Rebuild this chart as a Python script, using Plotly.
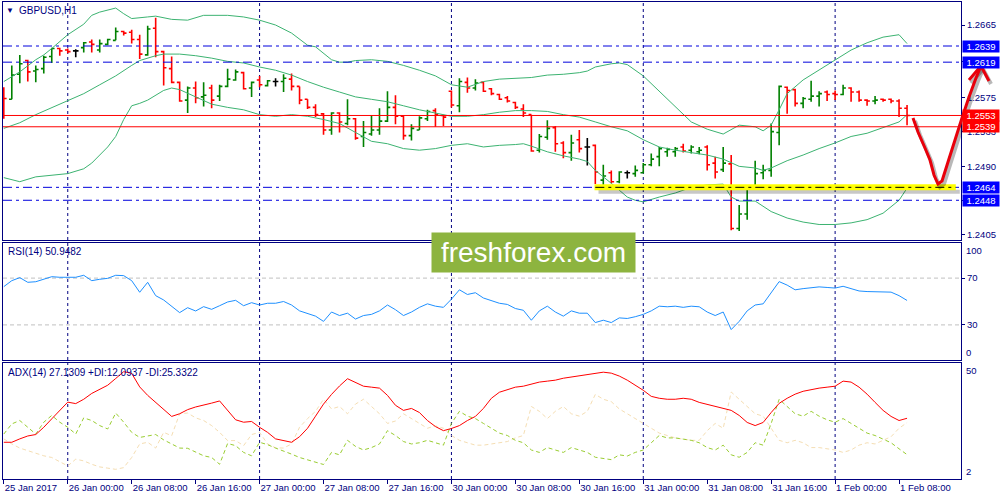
import plotly.graph_objects as go

# ---------------- data ----------------
bar_idx = list(range(114))
opens = [1.2587,1.2573,1.2604,1.2621,1.2608,1.2611,1.2626,1.2636,1.2634,1.2633,
         1.2637,1.2644,1.2634,1.2641,1.2646,1.2657,1.2656,1.2647,1.2628,1.2661,
         1.2632,1.2611,1.2594,1.2572,1.2587,1.2576,1.2587,1.2577,1.2589,1.2597,
         1.2606,1.2587,1.2597,1.2590,1.2595,1.2595,1.2598,1.2589,1.2573,1.2563,
         1.2555,1.2535,1.2556,1.2543,1.2549,1.2527,1.2530,1.2535,1.2546,1.2563,
         1.2552,1.2528,1.2535,1.2549,1.2559,1.2553,1.2583,1.2565,1.2594,1.2587,
         1.2594,1.2586,1.2579,1.2575,1.2569,1.2561,1.2554,1.2510,1.2526,1.2538,
         1.2519,1.2507,1.2523,1.2514,1.2516,1.2473,1.2482,1.2471,1.2482,1.2481,
         1.2482,1.2492,1.2502,1.2508,1.2508,1.2514,1.2510,1.2508,1.2514,1.2494,
         1.2486,1.2493,1.2413,1.2431,1.2462,1.2482,1.2485,1.2532,1.2588,1.2585,
         1.2568,1.2573,1.2577,1.2582,1.2580,1.2579,1.2587,1.2582,1.2572,1.2571,
         1.2573,1.2573,1.2571,1.2562]
highs = [1.2588,1.2615,1.2628,1.2622,1.2615,1.2627,1.2637,1.2637,1.2636,1.2635,
         1.2644,1.2647,1.2647,1.2648,1.2662,1.2658,1.2659,1.2653,1.2664,1.2674,
         1.2633,1.2626,1.2595,1.2589,1.2595,1.2594,1.2591,1.2591,1.2611,1.2610,
         1.2607,1.2595,1.2602,1.2597,1.2599,1.2604,1.2605,1.2589,1.2573,1.2567,
         1.2556,1.2557,1.2557,1.2573,1.2550,1.2546,1.2553,1.2562,1.2583,1.2578,
         1.2553,1.2542,1.2552,1.2560,1.2562,1.2554,1.2584,1.2599,1.2600,1.2598,
         1.2595,1.2587,1.2580,1.2577,1.2570,1.2567,1.2554,1.2530,1.2547,1.2540,
         1.2521,1.2529,1.2535,1.2525,1.2517,1.2492,1.2485,1.2484,1.2485,1.2491,
         1.2494,1.2506,1.2514,1.2513,1.2514,1.2518,1.2516,1.2514,1.2516,1.2502,
         1.2514,1.2504,1.2442,1.2464,1.2497,1.2492,1.2543,1.2590,1.2589,1.2586,
         1.2576,1.2596,1.2583,1.2584,1.2584,1.2591,1.2588,1.2584,1.2573,1.2577,
         1.2574,1.2574,1.2573,1.2566]
lows = [1.2549,1.2573,1.2593,1.2595,1.2594,1.2605,1.2618,1.2627,1.2630,1.2625,
        1.2631,1.2631,1.2631,1.2640,1.2646,1.2652,1.2642,1.2623,1.2627,1.2625,
        1.2590,1.2593,1.2570,1.2556,1.2568,1.2564,1.2562,1.2571,1.2588,1.2596,
        1.2585,1.2576,1.2588,1.2589,1.2589,1.2582,1.2584,1.2567,1.2561,1.2551,
        1.2529,1.2529,1.2532,1.2541,1.2523,1.2514,1.2528,1.2529,1.2545,1.2542,
        1.2523,1.2522,1.2535,1.2546,1.2539,1.2540,1.2563,1.2557,1.2581,1.2584,
        1.2582,1.2578,1.2572,1.2569,1.2561,1.2551,1.2508,1.2507,1.2523,1.2508,
        1.2500,1.2497,1.2507,1.2491,1.2468,1.2466,1.2469,1.2469,1.2475,1.2477,
        1.2481,1.2490,1.2490,1.2502,1.2502,1.2507,1.2506,1.2505,1.2485,1.2475,
        1.2483,1.2411,1.2410,1.2424,1.2461,1.2474,1.2477,1.2516,1.2555,1.2564,
        1.2562,1.2570,1.2564,1.2571,1.2572,1.2578,1.2570,1.2570,1.2565,1.2567,
        1.2570,1.2568,1.2551,1.2541]
closes = [1.2574,1.2603,1.2617,1.2607,1.2610,1.2625,1.2636,1.2633,1.2632,1.2633,
          1.2643,1.2641,1.2642,1.2647,1.2657,1.2655,1.2647,1.2629,1.2660,1.2632,
          1.2612,1.2594,1.2571,1.2587,1.2575,1.2578,1.2572,1.2589,1.2598,1.2607,
          1.2586,1.2594,1.2591,1.2596,1.2595,1.2599,1.2589,1.2572,1.2563,1.2554,
          1.2535,1.2556,1.2545,1.2549,1.2525,1.2532,1.2535,1.2546,1.2563,1.2552,
          1.2528,1.2537,1.2550,1.2558,1.2554,1.2551,1.2566,1.2595,1.2587,1.2593,
          1.2583,1.2580,1.2573,1.2571,1.2563,1.2556,1.2509,1.2527,1.2537,1.2518,
          1.2507,1.2519,1.2512,1.2514,1.2483,1.2478,1.2471,1.2483,1.2482,1.2485,
          1.2492,1.2499,1.2512,1.2511,1.2512,1.2509,1.2514,1.2510,1.2492,1.2483,
          1.2494,1.2413,1.2431,1.2462,1.2481,1.2485,1.2533,1.2589,1.2584,1.2568,
          1.2574,1.2577,1.2580,1.2579,1.2579,1.2587,1.2582,1.2572,1.2571,1.2572,
          1.2572,1.2571,1.2562,1.2553]

# Bollinger bands (at sample bars)
bb_up_idx = [0,2,4,5,6,8,10,11,12,14,15,16,18,19,21,23,25,28,30,32,34,36,38,39,41,42,43,44,
             46,48,50,52,54,56,58,60,62,64,66,68,70,72,73,74,76,77,78,80,82,84,86,88,90,92,
             94,95,96,97,98,100,102,104,106,108,110,112,113]
bb_up = [1.2595,1.2607,1.2622,1.2628,1.2636,1.2653,1.2666,1.2677,1.2681,1.2686,1.2679,1.2673,
         1.2675,1.2676,1.2672,1.2671,1.2677,1.2677,1.2675,1.2671,1.2665,1.2655,1.2640,1.2638,
         1.2622,1.2619,1.2619,1.2621,1.2622,1.2620,1.2615,1.2609,1.2602,1.2591,1.2588,1.2595,
         1.2598,1.2599,1.2600,1.2603,1.2604,1.2606,1.2608,1.2613,1.2617,1.2618,1.2616,1.2602,
         1.2583,1.2564,1.2545,1.2536,1.2530,1.2541,1.2539,1.2534,1.2541,1.2560,1.2580,1.2597,
         1.2609,1.2622,1.2634,1.2643,1.2650,1.2653,1.2642]
bb_mid_idx = [0,2,4,6,8,10,12,14,16,17,19,20,22,24,26,28,30,32,34,36,38,40,42,44,46,48,50,52,
              54,56,58,60,62,64,66,68,70,72,74,76,78,80,82,84,86,88,90,92,94,95,96,98,100,102,
              104,106,108,110,112,113]
bb_mid = [1.2537,1.2544,1.2554,1.2563,1.2572,1.2580,1.2591,1.2602,1.2615,1.2621,1.2627,1.2629,
          1.2629,1.2627,1.2624,1.2620,1.2618,1.2613,1.2609,1.2603,1.2595,1.2588,1.2582,1.2576,
          1.2573,1.2570,1.2565,1.2560,1.2556,1.2552,1.2552,1.2554,1.2557,1.2559,1.2559,1.2558,
          1.2554,1.2551,1.2545,1.2539,1.2534,1.2523,1.2514,1.2510,1.2507,1.2504,1.2499,1.2490,
          1.2488,1.2485,1.2488,1.2497,1.2504,1.2512,1.2519,1.2527,1.2531,1.2538,1.2545,1.2554]
bb_low_idx = [0,2,4,6,8,10,11,12,13,14,15,16,17,18,19,20,21,22,24,26,28,30,32,34,36,38,40,42,
              44,46,48,50,52,54,56,58,60,62,64,65,66,68,70,72,73,74,76,78,79,80,82,84,86,88,
              90,91,92,94,96,98,100,102,104,106,108,110,112,113]
bb_low = [1.2476,1.2471,1.2477,1.2479,1.2481,1.2487,1.2494,1.2504,1.2514,1.2527,1.2548,1.2565,
          1.2568,1.2572,1.2578,1.2584,1.2587,1.2585,1.2576,1.2567,1.2563,1.2560,1.2554,1.2552,
          1.2554,1.2552,1.2548,1.2543,1.2532,1.2521,1.2518,1.2512,1.2510,1.2512,1.2516,1.2518,
          1.2514,1.2516,1.2517,1.2518,1.2515,1.2508,1.2503,1.2499,1.2496,1.2485,1.2469,1.2452,
          1.2448,1.2446,1.2452,1.2457,1.2464,1.2467,1.2468,1.2452,1.2447,1.2447,1.2434,1.2426,
          1.2421,1.2418,1.2418,1.2420,1.2424,1.2432,1.2448,1.2463]

rsi = [62.7,67.8,70.4,66.4,66.9,69.2,71.2,70.7,70.7,70.7,72.4,67.8,69.0,69.8,72.4,72.1,67.8,57.9,
       66.4,55.0,51.3,46.2,40.5,44.7,41.9,45.6,43.3,46.4,49.6,51.0,46.4,49,47,48.5,48.5,50,47,42,
       40,37.5,33,41,38,40,35,38,39,42,47,43,38,41,45,48,46,45,52,60,56,57.5,53,51,48.5,47.5,44,
       42.5,34,42,46,41,37.5,42,40,40,32,34,32,36,35.5,37,39,42,46,45.5,46,45,46,45.5,41,38,41,
       26,33,42,47,48,58,67,64,60,61,62,62.5,62,61.5,63,61,59,58.5,58.5,58.5,58,55,50.9]

adx = [17.2,17.2,18.6,19.8,20.4,23.4,26.9,30.4,33.8,33.2,35.0,37.4,39.1,40.8,43.6,46.4,45.7,40.1,
       36.6,33.8,31.1,27.9,29.0,30.7,31.8,32.5,33.4,34.3,30.4,26.5,25.5,25.8,23.4,21.3,18.6,17.9,
       17.2,19.5,23.0,28.0,33.0,37.0,40.5,43.5,42.0,40.4,40.0,39.6,36.6,32.5,30.4,31.2,29.5,26.2,
       23.7,22.0,22.9,24.1,26.2,27.9,31.2,35.4,37.9,39.1,40.0,40.4,41.2,42.1,42.5,42.9,43.7,44.2,
       44.6,45.0,45.8,46.2,45.8,44.6,42.9,40.8,38.7,36.2,35.4,35.0,35.0,35.4,35.0,33.7,32.9,32.0,
       31.2,30.4,28.3,25.4,24.1,25.4,29.5,33.3,35.4,37.1,38.3,39.1,39.6,40.0,40.4,42.5,42.1,40.0,
       37.1,33.7,30.4,27.9,26.2,27.13]
plus_di = [20.6,24.8,26.2,23.4,20.6,25.5,28.3,25.5,23.4,20.6,27.3,26.2,24.1,22.7,29.3,25.5,21.3,
           19.2,19.9,20.4,18.2,16.5,14.8,14.7,13.0,11.6,10.9,8.1,16.7,15.8,13.0,11.6,17.2,16.2,
           14.8,13.7,12.3,10.9,10.0,9.0,8.0,13.0,12.0,18.0,15.5,14.0,15.0,16.5,22.0,20.0,17.5,
           16.5,17.0,18.0,17.0,16.0,25.0,30.0,28.0,27.0,25.0,23.0,21.0,20.0,18.0,17.0,14.0,13.0,
           15.0,14.0,13.0,15.0,14.0,13.0,11.0,10.5,10.0,12.0,11.5,13.0,14.0,17.0,20.0,19.0,19.0,
           18.5,18.0,17.0,15.0,14.0,16.0,12.0,11.0,13.0,17.0,16.0,25.0,35.0,32.0,29.0,28.0,30.0,
           28.0,26.5,25.5,27.0,25.0,23.0,21.0,20.0,18.5,17.0,14.5,12.09]
minus_di = [18.6,16.5,14.8,13.7,12.6,11.6,10.9,9.2,7.4,10.2,9.5,8.1,7.0,6.5,6.0,6.7,10.9,16.5,
            17.2,14.8,21.3,19.9,29.0,29.3,27.3,26.2,24.1,21.3,17.9,17.9,15.8,20.4,21.3,16.5,14.9,
            14.8,16.5,23.4,27.0,30.0,35.0,31.0,32.0,29.0,33.0,35.0,32.0,29.0,25.0,26.0,29.0,27.0,
            25.0,23.0,24.0,23.0,20.0,18.0,17.0,16.0,16.0,16.5,17.0,17.5,19.0,20.0,32.0,30.0,27.0,
            30.0,32.0,29.0,28.0,30.0,37.0,35.0,34.0,31.0,29.0,27.0,25.0,23.0,21.0,20.0,19.0,18.5,
            18.0,18.0,22.0,25.0,23.0,38.0,35.0,32.0,29.0,28.0,23.0,18.0,17.0,18.0,17.0,15.0,15.0,
            14.5,14.0,13.0,14.0,16.0,17.0,16.5,18.0,19.5,23.0,25.33]

x_tick_idx = [0, 8, 16, 24, 32, 40, 48, 56, 64, 72, 80, 88, 96, 104, 112]
x_tick_text = ["25 Jan 2017", "26 Jan 00:00", "26 Jan 08:00", "26 Jan 16:00", "27 Jan 00:00",
               "27 Jan 08:00", "27 Jan 16:00", "30 Jan 00:00", "30 Jan 08:00", "30 Jan 16:00",
               "31 Jan 00:00", "31 Jan 08:00", "31 Jan 16:00", "1 Feb 00:00", "1 Feb 08:00"]
day_start_idx = [8, 32, 56, 80, 104]

price_ticks = [1.2665, 1.2620, 1.2575, 1.2533, 1.2490, 1.2448, 1.2405]
level_blue = [1.2639, 1.2619, 1.2464, 1.2448]
level_red = [1.2553, 1.2539]
support_level = 1.2464
support_start_idx = 74

# ---------------- style ----------------
NAVY = "#000080"
FONT = "Tahoma, 'Liberation Sans', Arial, sans-serif"
XR = [-0.1, 119.75]
XD = [0.003, 0.961]

def px(x, y):
    return x / 1000.0, 1 - y / 500.0

fig = go.Figure()

reg = [i for i in bar_idx if opens[i] != closes[i]]
doji = [i for i in bar_idx if opens[i] == closes[i]]

fig.add_trace(go.Ohlc(
    x=reg, open=[opens[i] for i in reg], high=[highs[i] for i in reg],
    low=[lows[i] for i in reg], close=[closes[i] for i in reg],
    increasing=dict(line=dict(color="#008000", width=1.6)),
    decreasing=dict(line=dict(color="#FF0000", width=1.6)),
    tickwidth=0.35, xaxis="x", yaxis="y", hoverinfo="skip", showlegend=False))
fig.add_trace(go.Ohlc(
    x=doji, open=[opens[i] for i in doji], high=[highs[i] for i in doji],
    low=[lows[i] for i in doji], close=[closes[i] for i in doji],
    increasing=dict(line=dict(color="#000000", width=1.6)),
    decreasing=dict(line=dict(color="#000000", width=1.6)),
    tickwidth=0.35, xaxis="x", yaxis="y", hoverinfo="skip", showlegend=False))

for xs, ys in [(bb_up_idx, bb_up), (bb_mid_idx, bb_mid), (bb_low_idx, bb_low)]:
    fig.add_trace(go.Scatter(x=xs, y=ys, mode="lines", line=dict(color="#3CB371", width=1),
                             xaxis="x", yaxis="y", hoverinfo="skip", showlegend=False))

fig.add_trace(go.Scatter(x=bar_idx, y=rsi, mode="lines", line=dict(color="#1E90FF", width=1),
                         xaxis="x2", yaxis="y2", hoverinfo="skip", showlegend=False))

fig.add_trace(go.Scatter(x=bar_idx, y=minus_di, mode="lines",
                         line=dict(color="#F5DEB3", width=1, dash="4px,3px"),
                         xaxis="x3", yaxis="y3", hoverinfo="skip", showlegend=False))
fig.add_trace(go.Scatter(x=bar_idx, y=plus_di, mode="lines",
                         line=dict(color="#9ACD32", width=1, dash="4px,3px"),
                         xaxis="x3", yaxis="y3", hoverinfo="skip", showlegend=False))
fig.add_trace(go.Scatter(x=bar_idx, y=adx, mode="lines", line=dict(color="#FF0000", width=1),
                         xaxis="x3", yaxis="y3", hoverinfo="skip", showlegend=False))

shapes = []
for ydom in ["y domain", "y2 domain", "y3 domain"]:
    xr = {"y domain": "x", "y2 domain": "x2", "y3 domain": "x3"}[ydom]
    for d in day_start_idx:
        shapes.append(dict(type="line", xref=xr, yref=ydom, x0=d, x1=d, y0=0, y1=1,
                           line=dict(color=NAVY, width=1, dash="3px,3px"), layer="below"))
for lv in [70, 30]:
    shapes.append(dict(type="line", xref="paper", yref="y2", x0=XD[0], x1=XD[1], y0=lv, y1=lv,
                       line=dict(color="#C0C0C0", width=1, dash="4px,3px"), layer="below"))
for lv in level_blue:
    shapes.append(dict(type="line", xref="paper", yref="y", x0=XD[0], x1=XD[1], y0=lv, y1=lv,
                       line=dict(color="#0000DD", width=1, dash="9px,4px,3px,4px")))
for lv in level_red:
    shapes.append(dict(type="line", xref="paper", yref="y", x0=XD[0], x1=XD[1], y0=lv, y1=lv,
                       line=dict(color="#FF0000", width=1)))
shapes.append(dict(type="rect", xref="x", yref="y", x0=support_start_idx + 0.4, x1=119.6,
                   y0=support_level - 0.00080, y1=support_level - 0.00030,
                   fillcolor="rgba(0,0,0,0.22)", line=dict(width=0)))
shapes.append(dict(type="rect", xref="x", yref="y", x0=support_start_idx - 0.1, x1=119.1,
                   y0=support_level - 0.00037, y1=support_level + 0.00037,
                   fillcolor="#FFFF00", line=dict(width=0)))
shapes.append(dict(type="line", xref="x", yref="y", x0=support_start_idx, x1=119.1,
                   y0=support_level, y1=support_level,
                   line=dict(color="#000000", width=1, dash="9px,4px,3px,4px")))

arrow_pts = [(913, 118), (918, 132), (925, 148), (930, 160), (934, 175), (938, 184), (942, 181),
             (948, 162), (955, 140), (962, 118), (969, 97), (976, 78), (981, 66)]
head_pts = [(969, 80), (981, 66), (989, 81)]

def path(pts, dx=0, dy=0):
    s = ""
    for k, (a, b) in enumerate(pts):
        X, Y = px(a + dx, b + dy)
        s += ("M" if k == 0 else " L") + f"{X:.4f},{Y:.4f}"
    return s

for pts in [arrow_pts, head_pts]:
    shapes.append(dict(type="path", xref="paper", yref="paper", path=path(pts, 2, 3),
                       line=dict(color="rgba(0,0,0,0.28)", width=4)))
for pts in [arrow_pts, head_pts]:
    shapes.append(dict(type="path", xref="paper", yref="paper", path=path(pts),
                       line=dict(color="#E8000B", width=3)))

annotations = []
for lv in level_blue + level_red:
    col = "#0000FF" if lv in level_blue else "#FF0000"
    annotations.append(dict(x=0.9615, xref="paper", xanchor="left", y=lv, yref="y",
                            yanchor="middle", text=f"{lv:.4f}", showarrow=False,
                            font=dict(family=FONT, size=9.5, color="white"), bgcolor=col,
                            width=36, height=11, borderpad=0, align="center"))
for txt, yv, yr, anc in [("100", 100, "y2", "top"), ("0", 0, "y2", "bottom"),
                         ("50", 50, "y3", "top"), ("2", 2, "y3", "bottom")]:
    annotations.append(dict(x=0.964, xref="paper", xanchor="left", y=yv, yref=yr, yanchor=anc,
                            text=txt, showarrow=False, font=dict(family=FONT, size=9.5, color=NAVY)))
tx, ty = px(10, 10)
annotations.append(dict(x=tx, y=ty, xref="paper", yref="paper", xanchor="center", yanchor="middle",
                        text="▼", showarrow=False, font=dict(family=FONT, size=8, color=NAVY)))
tx, ty = px(17, 10)
annotations.append(dict(x=tx, y=ty, xref="paper", yref="paper", xanchor="left", yanchor="middle",
                        text="GBPUSD,H1", showarrow=False, font=dict(family=FONT, size=10, color=NAVY)))
tx, ty = px(6, 251)
annotations.append(dict(x=tx, y=ty, xref="paper", yref="paper", xanchor="left", yanchor="middle",
                        text="RSI(14) 50.9482", showarrow=False, font=dict(family=FONT, size=10, color=NAVY)))
tx, ty = px(6, 372)
annotations.append(dict(x=tx, y=ty, xref="paper", yref="paper", xanchor="left", yanchor="middle",
                        text="ADX(14) 27.1309 +DI:12.0937 -DI:25.3322", showarrow=False,
                        font=dict(family=FONT, size=10, color=NAVY)))
lx, ly = px(533.5, 252.5)
annotations.append(dict(x=lx, y=ly, xref="paper", yref="paper", xanchor="center", yanchor="middle",
                        text="freshforex.com", showarrow=False,
                        font=dict(family="'Liberation Sans', Arial, sans-serif", size=28, color="white"),
                        bgcolor="#8DB43F", width=203, height=39, borderpad=0))

axis_common = dict(showgrid=False, zeroline=False, showline=True, mirror=True,
                   linecolor=NAVY, linewidth=1, automargin=False)
tickfont = dict(family=FONT, size=9.5, color=NAVY)

fig.update_layout(
    width=1000, height=500, margin=dict(l=0, r=0, t=0, b=0, autoexpand=False),
    paper_bgcolor="white", plot_bgcolor="rgba(0,0,0,0)", showlegend=False,
    xaxis=dict(domain=XD, anchor="y", range=XR, showticklabels=False, ticks="",
               rangeslider=dict(visible=False), **axis_common),
    xaxis2=dict(domain=XD, anchor="y2", range=XR, matches="x", showticklabels=False, ticks="",
                **axis_common),
    xaxis3=dict(domain=XD, anchor="y3", range=XR, matches="x", tickvals=x_tick_idx,
                ticktext=x_tick_text, ticks="outside", ticklen=4, tickcolor=NAVY, tickangle=0,
                ticklabelposition="outside right", tickfont=tickfont, **axis_common),
    yaxis=dict(domain=[0.52, 0.996], anchor="x", side="right", range=[1.23988, 1.26935],
               tickvals=price_ticks, ticktext=[f"{v:.4f}" for v in price_ticks],
               ticks="outside", ticklen=3, tickcolor=NAVY, tickfont=tickfont, **axis_common),
    yaxis2=dict(domain=[0.28, 0.514], anchor="x2", side="right", range=[0, 100],
                tickvals=[30, 70], ticktext=["30", "70"], ticks="outside", ticklen=3,
                tickcolor=NAVY, tickfont=tickfont, **axis_common),
    yaxis3=dict(domain=[0.042, 0.274], anchor="x3", side="right", range=[2, 50],
                tickvals=[], showticklabels=False, **axis_common),
    shapes=shapes, annotations=annotations,
)

fig.write_html("out.html", config={"displayModeBar": False},
               post_script="document.body.style.margin='0';document.body.style.overflow='hidden';")
